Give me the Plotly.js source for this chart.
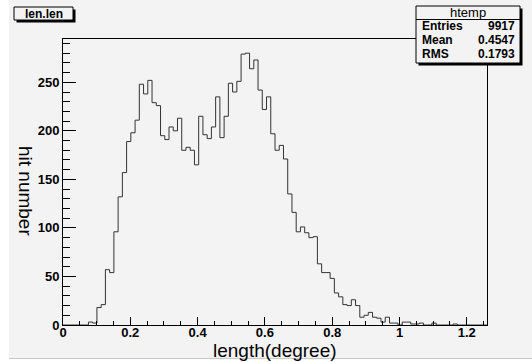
<!DOCTYPE html>
<html>
<head>
<meta charset="utf-8">
<script src="https://cdn.plot.ly/plotly-3.0.1.min.js"></script>
<style>
  html, body { margin: 0; padding: 0; background: #ffffff; }
  #bg { position: absolute; left: 9px; top: 0; width: 523px; height: 358px; background: #f3f3f3; border-bottom: 1px solid #c8c8c8; }
  #plot { position: absolute; left: 0; top: 0; width: 532px; height: 362px; }
</style>
</head>
<body>
<div id="bg"></div>
<div id="plot"></div>
<script>
// Histogram definition (ROOT htemp, 100 bins)
const xMin = 0;
const xMax = 1.26;
const nBins = 100;
// Bin contents
const counts = [
  0, 0, 0, 0, 0, 0, 3, 2, 18, 21,
  57, 54, 96, 132, 157, 189, 198, 211, 248, 238,
  252, 229, 226, 195, 191, 204, 200, 213, 180, 183,
  180, 165, 215, 196, 192, 204, 235, 193, 215, 249,
  240, 251, 279, 280, 264, 273, 242, 222, 235, 197,
  180, 185, 171, 135, 116, 96, 101, 95, 90, 91,
  63, 54, 54, 48, 33, 29, 21, 20, 26, 20,
  8, 10, 13, 8, 7, 3, 8, 2, 2, 0,
  3, 3, 1, 1, 2, 0, 0, 2, 0, 0,
  0, 0, 1, 0, 0, 0, 0, 0, 0, 0
];
const xTickVals = [0, 0.2, 0.4, 0.6, 0.8, 1, 1.2];
const xTickText = ["0", "0.2", "0.4", "0.6", "0.8", "1", "1.2"];
const yTickVals = [0, 50, 100, 150, 200, 250];
const yTickText = ["0", "50", "100", "150", "200", "250"];
const yMax = 294.6;

const histTitle = "len.len";
const statsName = "htemp";
const statLabels = ["Entries", "Mean", "RMS"];
const statValues = ["9917", "0.4547", "0.1793"];
const xTitle = "length(degree)";
const yTitle = "hit number";

// step outline from bin edges
const binW = (xMax - xMin) / nBins;
const xs = [], ys = [];
for (let i = 0; i < nBins; i++) { xs.push(xMin + i * binW); ys.push(counts[i]); }
xs.push(xMax); ys.push(counts[nBins - 1]);

// pixel -> paper helpers for decorations
const W = 532, H = 362, mL = 63, mR = 45, mT = 39, mB = 37;
const pw = W - mL - mR, ph = H - mT - mB;
const px = p => (p - mL) / pw;
const py = p => (H - mB - p) / ph;

const FAM = "Liberation Sans, Arial, sans-serif";
const bold = { family: FAM, size: 12, color: "#000", weight: "bold" };
const reg = { family: FAM, size: 13, color: "#000" };
const titleFont = { family: FAM, size: 19, color: "#000" };

function rect(x0, y0, x1, y1, fill, line) {
  return { type: "rect", xref: "paper", yref: "paper", layer: "above",
    x0: px(x0), x1: px(x1), y0: py(y0), y1: py(y1),
    fillcolor: fill, line: line ? { color: "#000", width: 1 } : { width: 0 } };
}

const shapes = [
  // title box + shadow
  rect(16.5, 9.5, 75.5, 22.5, "#000", false),
  rect(14, 7, 73, 20, "#f3f3f3", true),
  // stats box + shadow
  rect(418.5, 8.5, 522.5, 65.5, "#000", false),
  rect(416, 6, 520, 63, "#f3f3f3", true),
  { type: "line", xref: "paper", yref: "paper", layer: "above",
    x0: px(416), x1: px(520), y0: py(19.5), y1: py(19.5), line: { color: "#000", width: 1 } }
];

const annotations = [
  { text: histTitle, x: px(43.5), y: py(13.5), xanchor: "center", yanchor: "middle", font: bold },
  { text: statsName, x: px(468), y: py(12.5), xanchor: "center", yanchor: "middle", font: reg },
  { text: xTitle, x: px(275), y: py(350.5), xanchor: "center", yanchor: "middle", font: titleFont },
  { text: yTitle, x: px(26), y: py(191), xanchor: "center", yanchor: "middle", textangle: 90, font: titleFont }
];
const rowY = [26, 40, 54];
for (let i = 0; i < statLabels.length; i++) {
  annotations.push({ text: statLabels[i], x: px(420), y: py(rowY[i]), xanchor: "left", yanchor: "middle", font: bold });
  annotations.push({ text: statValues[i], x: px(517), y: py(rowY[i]), xanchor: "right", yanchor: "middle", font: bold });
}
annotations.forEach(a => { a.xref = "paper"; a.yref = "paper"; a.showarrow = false; });

const trace = {
  type: "scatter", mode: "lines", x: xs, y: ys,
  line: { shape: "hv", color: "#333", width: 1 },
  hoverinfo: "skip"
};

const axisFont = { family: FAM, size: 13, color: "#000", weight: "bold" };

const layout = {
  width: W, height: H,
  margin: { l: mL, r: mR, t: mT, b: mB, pad: 0 },
  paper_bgcolor: "rgba(0,0,0,0)", plot_bgcolor: "rgba(0,0,0,0)",
  showlegend: false,
  xaxis: {
    range: [xMin, xMax], tickvals: xTickVals, ticktext: xTickText,
    ticks: "inside", ticklen: 8.5, tickwidth: 1, tickcolor: "#000",
    minor: { dtick: 0.05, tick0: 0, ticks: "inside", ticklen: 4.5, tickwidth: 1, tickcolor: "#000" },
    showline: true, linecolor: "#000", linewidth: 1, mirror: true,
    showgrid: false, zeroline: false, tickfont: axisFont, fixedrange: true,
    ticklabelstandoff: -5
  },
  yaxis: {
    range: [0, yMax], tickvals: yTickVals, ticktext: yTickText,
    ticks: "inside", ticklen: 12.7, tickwidth: 1, tickcolor: "#000",
    minor: { dtick: 10, tick0: 0, ticks: "inside", ticklen: 6.5, tickwidth: 1, tickcolor: "#000" },
    showline: true, linecolor: "#000", linewidth: 1, mirror: true,
    showgrid: false, zeroline: false, tickfont: axisFont, fixedrange: true
  },
  shapes: shapes,
  annotations: annotations
};

Plotly.newPlot("plot", [trace], layout, { staticPlot: true, displayModeBar: false });
</script>
</body>
</html>
